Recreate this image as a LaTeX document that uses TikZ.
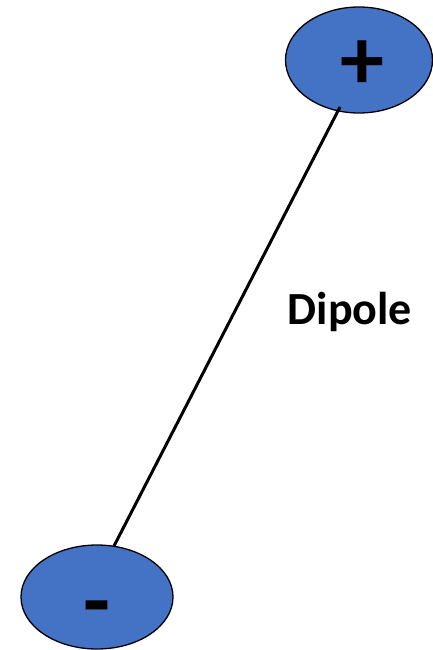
\documentclass[tikz,border=0pt]{standalone}
\usepackage{fontspec}
\setmainfont{Carlito}
\usetikzlibrary{shapes.geometric}
\definecolor{pole}{HTML}{4472C4}
\tikzset{
  polebox/.style={ellipse, draw=black, line width=1.3pt, fill=pole, inner sep=0pt},
  signtext/.style={font=\fontsize{88}{88}\selectfont\bfseries, inner sep=0pt},
  link/.style={line width=3pt, black}
}
\begin{document}
\begin{tikzpicture}[x=1pt,y=-1pt]
\useasboundingbox (0,0) rectangle (433,650);
\node[polebox, minimum width=147pt, minimum height=106pt] (top) at (359,60) {};
\node[polebox, minimum width=152pt, minimum height=104pt] (bot) at (97,597) {};
\coordinate (a) at (340,107);
\coordinate (b) at (114,546);
\draw[link] (a) -- (b);
\node[signtext] (plus) at (362,65) {+};
\node[signtext, anchor=base] (minus) at (97,630) {-};
\node[font=\fontsize{46}{46}\selectfont\bfseries, inner sep=0pt] (lbl) at (350,312) {Dipole};
\end{tikzpicture}
\end{document}
